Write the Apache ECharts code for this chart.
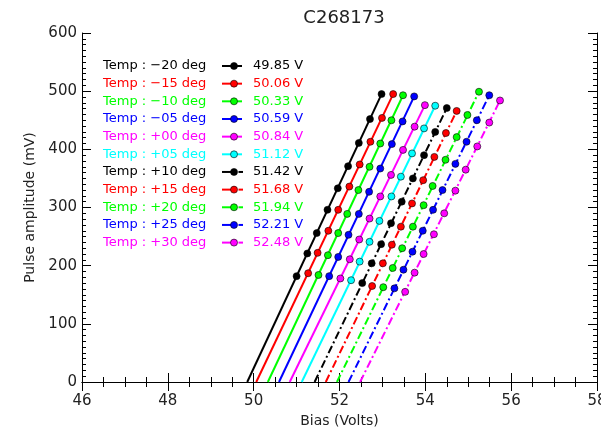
<!DOCTYPE html>
<html>
<head>
<meta charset="utf-8">
<script src="https://cdn.jsdelivr.net/npm/echarts@6/dist/echarts.min.js"></script>
<style>html,body{margin:0;padding:0;background:#fff;}#c{width:601px;height:432px;}</style>
</head>
<body>
<div id="c"></div>
<script>
// ---- data ----
const titleText = 'C268173';
const xName = 'Bias (Volts)';
const yName = 'Pulse amplitude (mV)';
const xTicks = [46, 48, 50, 52, 54, 56, 58];
const yTicks = [0, 100, 200, 300, 400, 500, 600];
const temps = ['\u221220', '\u221215', '\u221210', '\u221205', '+00', '+05', '+10', '+15', '+20', '+25', '+30'];
const breakdown = [49.85, 50.06, 50.33, 50.59, 50.84, 51.12, 51.42, 51.68, 51.94, 52.21, 52.48];
const pts_m20 = [[51.00,182],[51.25,221],[51.47,256],[51.72,296],[51.96,333],[52.20,371],[52.45,411],[52.71,452],[52.98,495]];
const pts_m15 = [[51.27,187],[51.49,222],[51.74,260],[51.97,296],[52.23,336],[52.47,374],[52.72,413],[52.99,454],[53.25,495]];
const pts_m10 = [[51.51,184],[51.73,218],[51.97,256],[52.18,289],[52.44,330],[52.70,370],[52.95,410],[53.21,450],[53.48,493]];
const pts_m05 = [[51.76,182],[51.97,215],[52.21,253],[52.45,289],[52.69,327],[52.95,367],[53.22,409],[53.47,448],[53.74,491]];
const pts_p00 = [[52.02,178],[52.24,211],[52.46,245],[52.70,281],[52.95,319],[53.20,356],[53.48,399],[53.75,439],[53.99,476]];
const pts_p05 = [[52.27,175],[52.47,207],[52.70,241],[52.93,277],[53.21,319],[53.43,353],[53.69,393],[53.97,436],[54.23,475]];
const pts_p10 = [[52.53,170],[52.75,204],[52.97,237],[53.20,273],[53.45,310],[53.71,350],[53.97,390],[54.23,430],[54.50,471]];
const pts_p15 = [[52.76,165],[53.01,204],[53.22,236],[53.43,267],[53.69,307],[53.95,347],[54.21,387],[54.48,428],[54.73,466]];
const pts_p20 = [[53.02,163],[53.24,196],[53.46,230],[53.71,267],[53.96,304],[54.17,337],[54.47,382],[54.73,421],[54.98,459],[55.25,499]];
const pts_p25 = [[53.28,161],[53.49,193],[53.70,224],[53.94,260],[54.18,296],[54.40,330],[54.70,375],[54.96,413],[55.20,450],[55.49,493]];
const pts_p30 = [[53.53,155],[53.75,188],[53.96,220],[54.20,254],[54.44,290],[54.70,329],[54.94,365],[55.21,405],[55.49,446],[55.74,484]];
const allPoints = [pts_m20, pts_m15, pts_m10, pts_m05, pts_p00, pts_p05, pts_p10, pts_p15, pts_p20, pts_p25, pts_p30];

// ---- styles ----
const colors = ['#000000','#ff0000','#00ff00','#0000ff','#ff00ff','#00ffff','#000000','#ff0000','#00ff00','#0000ff','#ff00ff'];
const dashed = [false,false,false,false,false,false,true,true,true,true,true];
const FONT = '"DejaVu Sans", sans-serif';

const chart = echarts.init(document.getElementById('c'), null, {renderer: 'canvas'});

const series = [];
allPoints.forEach((pts, i) => {
  const last = pts[pts.length - 1];
  series.push({
    type: 'line',
    data: [[breakdown[i], 0], last],
    showSymbol: false,
    silent: true,
    z: 2,
    lineStyle: {color: colors[i], width: 2, type: dashed[i] ? [8, 3, 2, 3] : 'solid'}
  });
  series.push({
    type: 'scatter',
    data: pts,
    symbol: 'circle',
    symbolSize: 7,
    z: 3,
    itemStyle: {color: colors[i], borderColor: '#000', borderWidth: 0.6, opacity: 1}
  });
});

// legend drawn as graphic text
const graphics = [];
const legX = 103, legY0 = 66, legDy = 17.66;
temps.forEach((t, i) => {
  const y = legY0 + i * legDy;
  graphics.push({type: 'text', x: legX, y: y, z: 10,
    style: {text: 'Temp : ' + t + ' deg', fill: colors[i], font: '13px ' + FONT, align: 'left', verticalAlign: 'middle'}});
  if (dashed[i]) {
    graphics.push({type: 'line', z: 10, shape: {x1: 222, y1: y, x2: 234, y2: y}, style: {stroke: colors[i], lineWidth: 2}});
    graphics.push({type: 'line', z: 10, shape: {x1: 238.5, y1: y, x2: 243, y2: y}, style: {stroke: colors[i], lineWidth: 2}});
  } else {
    graphics.push({type: 'line', z: 10, shape: {x1: 222, y1: y, x2: 242, y2: y}, style: {stroke: colors[i], lineWidth: 2}});
  }
  graphics.push({type: 'circle', z: 11, shape: {cx: 234, cy: y, r: 3.5}, style: {fill: colors[i], stroke: '#000', lineWidth: 0.6}});
  graphics.push({type: 'text', x: 253, y: y, z: 10,
    style: {text: breakdown[i].toFixed(2) + ' V', fill: colors[i], font: '13px ' + FONT, align: 'left', verticalAlign: 'middle'}});
});

const axisCommon = {
  axisLine: {show: true, lineStyle: {color: '#000', width: 1}},
  splitLine: {show: false}
};

chart.setOption({
  backgroundColor: '#fff',
  animation: false,
  title: {text: titleText, left: 339, top: 4, textAlign: 'center',
    textStyle: {fontFamily: FONT, fontSize: 18, fontWeight: 'normal', color: '#222'}},
  grid: {left: 82, right: 4, top: 33, bottom: 50, containLabel: false, outerBoundsMode: 'none'},
  xAxis: [
    Object.assign({type: 'value', min: xTicks[0], max: xTicks[xTicks.length - 1], interval: 2, position: 'bottom',
      name: xName, nameLocation: 'middle', nameGap: 28,
      nameTextStyle: {fontFamily: FONT, fontSize: 14, color: '#222'},
      axisTick: {show: true, inside: true, length: 9, lineStyle: {color: '#000'}},
      minorTick: {show: true, splitNumber: 4, length: 5, lineStyle: {color: '#000'}},
      axisLabel: {show: true, margin: 12, fontFamily: FONT, fontSize: 15, color: '#222', alignMaxLabel: 'center', alignMinLabel: 'center'}}, axisCommon),
    Object.assign({type: 'value', min: xTicks[0], max: xTicks[xTicks.length - 1], interval: 2, position: 'top',
      axisTick: {show: true, inside: true, length: 9, lineStyle: {color: '#000'}},
      minorTick: {show: true, splitNumber: 4, length: 5, lineStyle: {color: '#000'}},
      axisLabel: {show: false}}, axisCommon)
  ],
  yAxis: [
    Object.assign({type: 'value', min: yTicks[0], max: yTicks[yTicks.length - 1], interval: 100, position: 'left',
      name: yName, nameLocation: 'middle', nameGap: 45,
      nameTextStyle: {fontFamily: FONT, fontSize: 14, color: '#222'},
      axisTick: {show: true, inside: true, length: 9, lineStyle: {color: '#000'}},
      minorTick: {show: true, splitNumber: 10, length: 4, lineStyle: {color: '#000'}},
      axisLabel: {show: true, margin: 5, fontFamily: FONT, fontSize: 15, color: '#222'}}, axisCommon),
    Object.assign({type: 'value', min: yTicks[0], max: yTicks[yTicks.length - 1], interval: 100, position: 'right',
      axisTick: {show: true, inside: true, length: 9, lineStyle: {color: '#000'}},
      minorTick: {show: true, splitNumber: 10, length: 4, lineStyle: {color: '#000'}},
      axisLabel: {show: false}}, axisCommon)
  ],
  graphic: graphics,
  series: series
});
</script>
</body>
</html>
